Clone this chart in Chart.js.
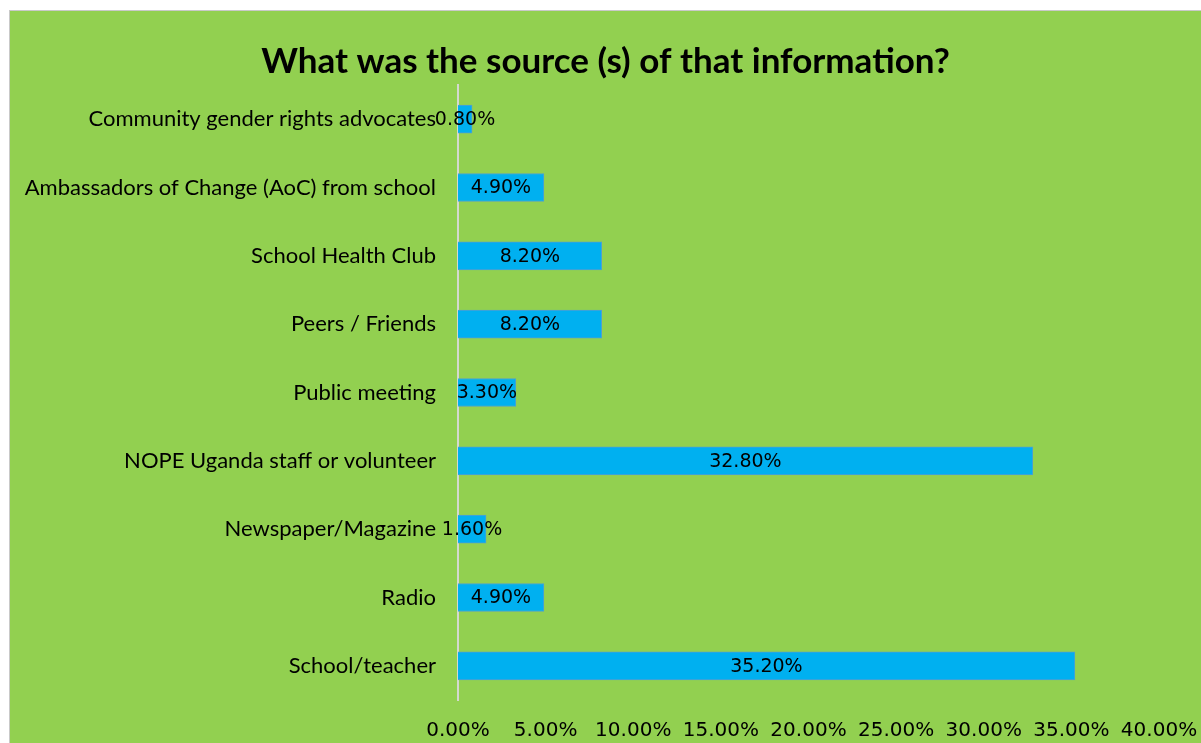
<!DOCTYPE html>
<html>
<head>
<meta charset="utf-8">
<script src="https://cdn.jsdelivr.net/npm/chart.js@4/dist/chart.umd.min.js"></script>
<style>
  body { margin: 0; background: #fff; }
  #wrap {
    position: absolute; left: 9px; top: 10px;
    width: 1192px; height: 733px;
    border-top: 1px solid #c9c9c9; border-left: 1px solid #c9c9c9;
  }
</style>
</head>
<body>
<div id="wrap"><canvas id="bar-chart" width="1191" height="732"></canvas></div>
<script>
var sources = [
  "Community gender rights advocates",
  "Ambassadors of Change (AoC) from school",
  "School Health Club",
  "Peers / Friends",
  "Public meeting",
  "NOPE Uganda staff or volunteer",
  "Newspaper/Magazine",
  "Radio",
  "School/teacher"
];
var percents = [0.8, 4.9, 8.2, 8.2, 3.3, 32.8, 1.6, 4.9, 35.2];
var tickMax = 40;
var tickStep = 5;

var greenBg = {
  id: 'greenBg',
  beforeDraw: function (chart) {
    var ctx = chart.ctx;
    ctx.save();
    ctx.fillStyle = '#92d050';
    ctx.fillRect(0, 0, chart.width, chart.height);
    ctx.restore();
  }
};

// value text in the middle of each bar
var barValues = {
  id: 'barValues',
  afterDatasetsDraw: function (chart) {
    var ctx = chart.ctx;
    var meta = chart.getDatasetMeta(0);
    ctx.save();
    ctx.font = '19px "DejaVu Sans"';
    ctx.fillStyle = '#000';
    ctx.textAlign = 'center';
    ctx.textBaseline = 'middle';
    meta.data.forEach(function (bar, i) {
      var cx = (bar.x + bar.base) / 2;
      ctx.fillText(percents[i].toFixed(2) + '%', cx, bar.y + 1);
    });
    ctx.restore();
  }
};

new Chart(document.getElementById("bar-chart"), {
  type: 'bar',
  data: {
    labels: sources,
    datasets: [{
      data: percents,
      backgroundColor: '#00b0f0',
      borderColor: '#4f9fd0',
      borderWidth: 1,
      barThickness: 28
    }]
  },
  plugins: [greenBg, barValues],
  options: {
    indexAxis: 'y',
    responsive: false,
    animation: false,
    layout: { padding: 0 },
    plugins: {
      legend: { display: false },
      tooltip: { enabled: false },
      title: {
        display: true,
        text: 'What was the source (s) of that information?',
        color: '#000',
        font: { family: 'Lato', size: 35, weight: 'bold', lineHeight: 1.2 },
        padding: { top: 30, bottom: 2 }
      }
    },
    scales: {
      x: {
        min: 0,
        max: tickMax,
        grid: { display: false, drawTicks: false },
        border: { display: false },
        ticks: {
          stepSize: tickStep,
          color: '#000',
          padding: 19,
          font: { family: 'DejaVu Sans', size: 20 },
          callback: function (v) { return v.toFixed(2) + '%'; }
        },
        // keep room on the right for the last tick label
        afterFit: function (scale) {
          scale.height = 43;
          scale.paddingLeft = 0;
          scale.paddingRight = 42;
        }
      },
      y: {
        grid: { display: false, drawTicks: false },
        border: { display: true, color: '#d4d9cf', width: 2 },
        ticks: {
          color: '#000',
          padding: 22,
          font: { family: 'Lato', size: 22 }
        },
        afterFit: function (scale) { scale.width = 448; }
      }
    }
  }
});
</script>
</body>
</html>
